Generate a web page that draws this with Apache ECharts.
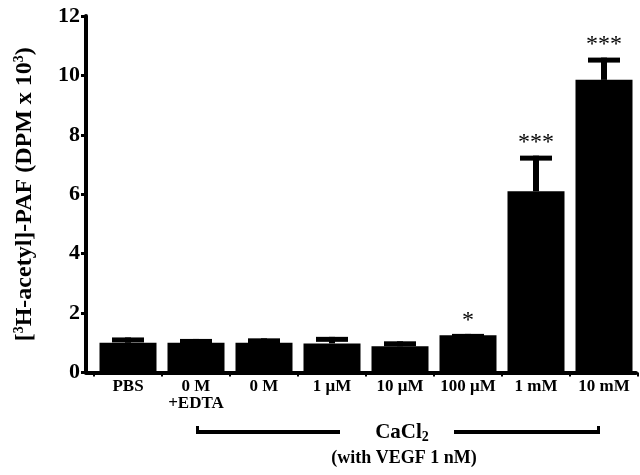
<!DOCTYPE html>
<html lang="en">
<head>
    <meta charset="UTF-8">
    <title>PAF vs CaCl2</title>
    <script src="https://cdn.jsdelivr.net/npm/echarts/dist/echarts.min.js"></script>
    <style>
        html, body { margin: 0; padding: 0; background: #fff; }
        #pic { width: 640px; height: 475px; }
    </style>
</head>
<body>
    <div id="pic"></div>
    <script>
        // data
        const categories = ['PBS', '0 M\n+EDTA', '0 M', '1 \u03bcM', '10 \u03bcM', '100 \u03bcM', '1 mM', '10 mM'];
        const means = [1.0, 1.0, 1.0, 0.98, 0.88, 1.25, 6.1, 9.85];
        const errors = [0.18, 0.13, 0.15, 0.22, 0.17, 0.05, 1.2, 0.75];
        const stars = ['', '', '', '', '', '*', '***', '***'];
        const yTicks = [0, 2, 4, 6, 8, 10, 12];

        const font = '"Liberation Serif", "DejaVu Serif", serif';
        const myChart = echarts.init(document.getElementById('pic'));

        const option = {
            animation: false,
            grid: [
                { left: 94, right: 2, top: 16, bottom: 102.5 },
                { left: 86, right: 4, top: 16, bottom: 102.5 }
            ],
            xAxis: [{
                type: 'category',
                data: categories,
                gridIndex: 0,
                axisLine: { show: false },
                axisTick: { show: true, length: 4, lineStyle: { color: '#000', width: 2 } },
                axisLabel: {
                    color: '#000', fontFamily: font, fontWeight: 'bold', fontSize: 17,
                    margin: 6, lineHeight: 17, interval: 0
                }
            }, {
                type: 'value', gridIndex: 1, min: 0, max: 1,
                axisLine: { show: true, lineStyle: { color: '#000', width: 4 } },
                axisTick: { show: false }, axisLabel: { show: false }, splitLine: { show: false }
            }],
            yAxis: [{
                type: 'value',
                gridIndex: 0,
                min: yTicks[0],
                max: yTicks[yTicks.length - 1],
                interval: 2,
                offset: 8,
                axisLine: { show: true, lineStyle: { color: '#000', width: 4 } },
                axisTick: { show: true, length: 5, lineStyle: { color: '#000', width: 3 } },
                axisLabel: { color: '#000', fontFamily: font, fontWeight: 'bold', fontSize: 22, margin: 6 },
                splitLine: { show: false },
                name: '[{sup|3}H-acetyl]-PAF (DPM x 10{sup|3})',
                nameLocation: 'middle',
                nameRotate: 90,
                nameGap: 48,
                nameTextStyle: {
                    color: '#000', fontFamily: font, fontWeight: 'bold', fontSize: 24, lineHeight: 26,
                    rich: {
                        sup: { fontFamily: font, fontWeight: 'bold', fontSize: 14, verticalAlign: 'top', lineHeight: 26, color: '#000' }
                    }
                }
            }, {
                type: 'value', gridIndex: 1, show: false, min: 0, max: 1
            }],
            series: [{
                type: 'bar',
                data: means,
                barWidth: 57,
                itemStyle: { color: '#000' }
            }, {
                type: 'custom',
                data: means.map((m, i) => [i, m, m + errors[i]]),
                z: 3,
                renderItem: function (params, api) {
                    const i = api.value(0);
                    const base = api.coord([i, api.value(1)]);
                    const top = api.coord([i, api.value(2)]);
                    const capW = 32;
                    const capH = 5;
                    const children = [{
                        type: 'rect',
                        shape: { x: base[0] - 3, y: top[1], width: 6, height: base[1] - top[1] },
                        style: { fill: '#000' }
                    }, {
                        type: 'rect',
                        shape: { x: base[0] - capW / 2, y: top[1], width: capW, height: capH },
                        style: { fill: '#000' }
                    }];
                    if (stars[i]) {
                        children.push({
                            type: 'text',
                            style: {
                                text: stars[i], x: base[0], y: top[1] - 1,
                                align: 'center', verticalAlign: 'bottom',
                                font: '24px ' + font, fill: '#000'
                            }
                        });
                    }
                    return { type: 'group', children: children };
                }
            }]
        };

        myChart.setOption(option);

        // CaCl2 bracket below the axis, anchored on category centres
        const x1 = myChart.convertToPixel({ xAxisIndex: 0 }, categories[1]);
        const x2 = myChart.convertToPixel({ xAxisIndex: 0 }, categories[7]);
        const yb = 432;
        const mid = 402;
        myChart.setOption({
            graphic: [
                { type: 'rect', shape: { x: x1, y: yb - 2, width: mid - 62 - x1, height: 4 }, style: { fill: '#000' } },
                { type: 'rect', shape: { x: mid + 52, y: yb - 2, width: x2 - 4 - mid - 52, height: 4 }, style: { fill: '#000' } },
                { type: 'rect', shape: { x: x1, y: yb - 6, width: 3, height: 8 }, style: { fill: '#000' } },
                { type: 'rect', shape: { x: x2 - 7, y: yb - 6, width: 3, height: 8 }, style: { fill: '#000' } },
                {
                    type: 'text', x: mid, y: yb + 1,
                    style: {
                        text: 'CaCl{sub|2}', align: 'center', verticalAlign: 'middle',
                        font: 'bold 21px ' + font, fill: '#000',
                        rich: { sub: { font: 'bold 14px ' + font, verticalAlign: 'bottom', fill: '#000', padding: [9, 0, 0, 0] } }
                    }
                },
                {
                    type: 'text', x: mid + 2, y: 458,
                    style: {
                        text: '(with VEGF 1 nM)', align: 'center', verticalAlign: 'middle',
                        font: 'bold 18px ' + font, fill: '#000'
                    }
                }
            ]
        });
    </script>
</body>
</html>
